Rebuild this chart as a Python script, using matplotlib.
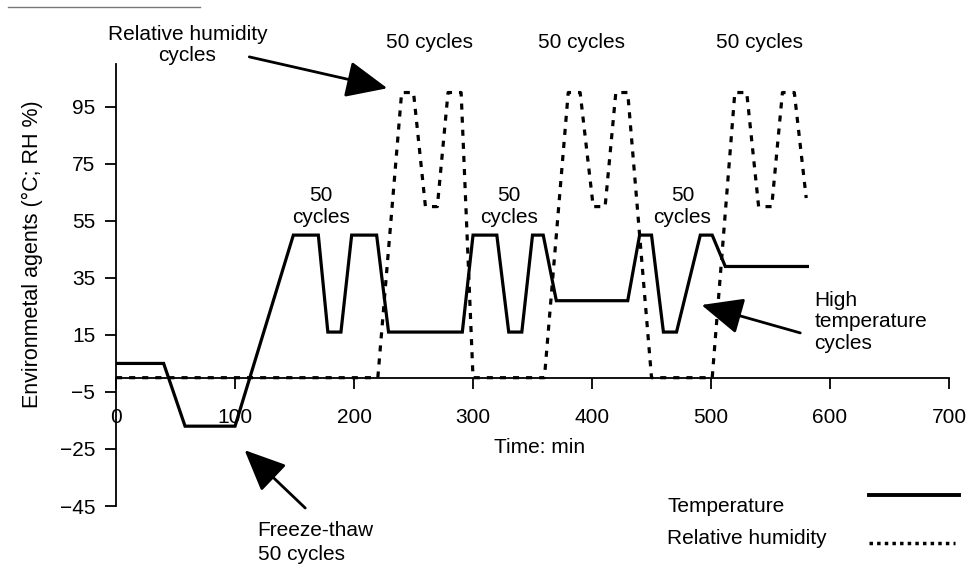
import matplotlib.pyplot as plt
from matplotlib.lines import Line2D

plt.rcParams['font.family'] = ['Liberation Sans', 'DejaVu Sans']

# temperature programme (min, degC)
temp_t = [0, 40, 58, 100, 149, 170, 178, 189, 198, 219, 229, 291, 300, 320, 330, 341,
          350, 359, 370, 430, 440, 450, 460, 471, 491, 501, 512, 581]
temp_v = [5, 5, -17, -17, 50, 50, 16, 16, 50, 50, 16, 16, 50, 50, 16, 16,
          50, 50, 27, 27, 50, 50, 16, 16, 50, 50, 39, 39]

# relative humidity programme (min, %)
rh_t = [0, 220, 240, 250, 260, 270, 279, 290, 300, 360, 380, 390, 401, 411, 420, 430,
        450, 501, 520, 530, 540, 551, 560, 570, 580]
rh_v = [0, 0, 100, 100, 60, 60, 100, 100, 0, 0, 100, 100, 60, 60, 100, 100,
        0, 0, 100, 100, 60, 60, 100, 100, 63]

xticks = [0, 100, 200, 300, 400, 500, 600, 700]
yticks = [-45, -25, -5, 15, 35, 55, 75, 95]

FS = 15

fig = plt.figure(figsize=(9.67, 5.69), dpi=100)
ax = fig.add_axes([0.12, 0.1107, 0.8614, 0.7768])

ax.plot(temp_t, temp_v, color='black', lw=2.3, solid_joinstyle='miter')
ax.plot(rh_t, rh_v, color='black', lw=2.3, linestyle=(0, (1.9, 2.2)))

ax.set_xlim(0, 700)
ax.set_ylim(-45, 110)
ax.set_xticks(xticks)
ax.set_yticks(yticks)
ax.spines['top'].set_visible(False)
ax.spines['right'].set_visible(False)
ax.spines['bottom'].set_position(('data', 0))
ax.spines['left'].set_linewidth(1.3)
ax.spines['bottom'].set_linewidth(1.3)
ax.tick_params(axis='y', direction='out', length=8, width=1.3, labelsize=FS, pad=7)
ax.tick_params(axis='x', direction='out', length=8, width=1.3, labelsize=FS, pad=14)

ax.set_ylabel('Environmetal agents (°C; RH %)', fontsize=15.5)
ax.yaxis.set_label_coords(-0.088, 0.57)
ax.text(356, -24.6, 'Time: min', fontsize=FS, ha='center', va='center')

# cycle labels
for x in [263, 391, 541]:
    ax.text(x, 117.6, '50 cycles', fontsize=FS, ha='center', va='center', clip_on=False)
for x in [172, 330, 476]:
    ax.text(x, 60, '50\ncycles', fontsize=FS, ha='center', va='center', linespacing=1.15)

arrow = dict(arrowstyle='-|>,head_length=1.35,head_width=0.6', color='black',
             lw=2, mutation_scale=19, shrinkA=0, shrinkB=0)
ax.annotate('', xy=(228, 101.5), xytext=(112, 112.5), arrowprops=arrow, annotation_clip=False)
ax.text(60, 116.6, 'Relative humidity\ncycles', fontsize=FS, ha='center', va='center',
        linespacing=1.15, clip_on=False)

ax.annotate('', xy=(492, 25.5), xytext=(575, 15.7), arrowprops=arrow, annotation_clip=False)
ax.text(587, 19.6, 'High\ntemperature\ncycles', fontsize=FS, ha='left', va='center',
        linespacing=1.15)

ax.annotate('', xy=(108, -25.4), xytext=(159, -45.7), arrowprops=arrow, annotation_clip=False)
ax.text(119, -57.8, 'Freeze-thaw\n50 cycles', fontsize=FS, ha='left', va='center',
        linespacing=1.35, clip_on=False)

# key drawn at the lower right
fig.text(667 / 967, 1 - 506 / 569, 'Temperature', fontsize=FS, va='center')
fig.text(667 / 967, 1 - 539 / 569, 'Relative humidity', fontsize=FS, va='center')
fig.add_artist(Line2D([869 / 967, 959 / 967], [1 - 495 / 569] * 2, color='black', lw=2.8))
fig.add_artist(Line2D([869 / 967, 955 / 967], [1 - 543 / 569] * 2, color='black', lw=2.5,
                      linestyle=(0, (1.0, 1.2))))

# thin rule left over at the top edge
fig.add_artist(Line2D([8 / 967, 200 / 967], [1 - 7 / 569] * 2, color='#777777', lw=1))

fig.savefig('out.png', dpi=100)
